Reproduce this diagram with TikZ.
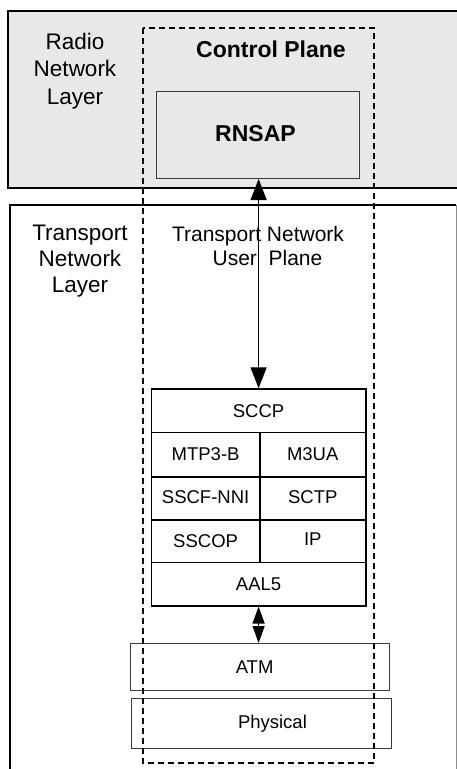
\documentclass[tikz,border=0pt]{standalone}
\usepackage{fontspec}
\setmainfont{Liberation Sans}
\usetikzlibrary{arrows.meta}
\definecolor{panel}{RGB}{232,232,232}
\definecolor{boxgray}{RGB}{60,60,60}
\begin{document}
\begin{tikzpicture}[x=1pt,y=-1pt,
  layerlbl/.style={font=\fontsize{22.5}{27.3}\selectfont, align=center, inner sep=0pt, anchor=north},
  planelbl/.style={font=\fontsize{21}{24.3}\selectfont, align=center, inner sep=0pt, anchor=north},
  titlelbl/.style={font=\bfseries\fontsize{23}{27}\selectfont, inner sep=0pt, anchor=base},
  cell/.style={draw=black, line width=1.5pt, inner sep=0pt, anchor=north west,
    font=\fontsize{18.5}{22}\selectfont},
  phybox/.style={draw=boxgray, line width=1.2pt, inner sep=0pt, anchor=north west,
    font=\fontsize{18.5}{22}\selectfont},
  appbox/.style={draw=boxgray, line width=1pt, fill=panel, inner sep=0pt, anchor=north west,
    font=\bfseries\fontsize{23}{27}\selectfont},
  bigarrow/.style={{Triangle[length=21pt,width=16pt]}-{Triangle[length=21pt,width=16pt]}, line width=1.2pt},
  smallarrow/.style={{Triangle[length=17pt,width=12pt]}-{Triangle[length=17pt,width=12pt]}, line width=1.2pt},
  layerframe/.style={line width=1.5pt},
  planeframe/.style={draw=black, line width=1.5pt, dash pattern=on 6pt off 4pt}
]
\useasboundingbox (0,0) rectangle (457,769);

% Radio Network Layer panel
\fill[panel] (8,11) rectangle (457,188);
\draw[layerframe] (457,11) -- (8,11) -- (8,188) -- (457,188);

% Transport Network Layer panel (open at the bottom)
\draw[layerframe] (10,769) -- (10,205) -- (456,205);
\draw[draw=black!45, line width=0.8pt] (456,205) -- (456,769);

% layer labels
\node[layerlbl] (rnl) at (75,32.9) {Radio\\Network\\Layer};
\node[layerlbl, font=\fontsize{22.5}{26}\selectfont] (tnl) at (80,224.6) {Transport\\Network\\Layer};

% control plane
\node[titlelbl] (cptitle) at (271,57) {Control Plane};
\node[appbox, minimum width=203pt, minimum height=87pt] (rnsap) at (156,91)
  {\raisebox{3pt}{RNSAP\hspace*{5pt}}};

% transport network user plane label
\node[planelbl] (tnup) at (258,225.7) {Transport Network\\\hspace*{19pt}User\ \ Plane};

% signalling stack
\node[cell, minimum width=214.3pt, minimum height=43.4pt] (sccp) at (150.7,388.3) {SCCP};
\node[cell, minimum width=108.3pt, minimum height=44.3pt] (mtp) at (150.7,431.7) {MTP3-B};
\node[cell, minimum width=106pt, minimum height=44.3pt] (m3ua) at (259,431.7) {M3UA};
\node[cell, minimum width=108.3pt, minimum height=43pt] (sscf) at (150.7,476) {\raisebox{2pt}{SSCF-NNI}};
\node[cell, minimum width=106pt, minimum height=43pt] (sctp) at (259,476) {\raisebox{2pt}{SCTP}};
\node[cell, minimum width=108.3pt, minimum height=42.7pt] (sscop) at (150.7,519) {SSCOP};
\node[cell, minimum width=106pt, minimum height=42.7pt] (ip) at (259,519) {\raisebox{3pt}{IP}};
\node[cell, minimum width=214.3pt, minimum height=43.3pt] (aal) at (150.7,561.7) {AAL5};

% lower layers
\node[phybox, minimum width=259pt, minimum height=47pt] (atm) at (130,643) {ATM\hspace*{11pt}};
\node[phybox, minimum width=259.7pt, minimum height=49.7pt] (phy) at (131,698) {\hspace*{22pt}Physical};

% connectors
\draw[bigarrow] (sccp.north) -- (sccp.north |- rnsap.south);
\draw[smallarrow] (aal.south) -- (aal.south |- atm.north);

% control plane frame
\draw[planeframe] (143,28) rectangle (374,763);
\end{tikzpicture}
\end{document}
